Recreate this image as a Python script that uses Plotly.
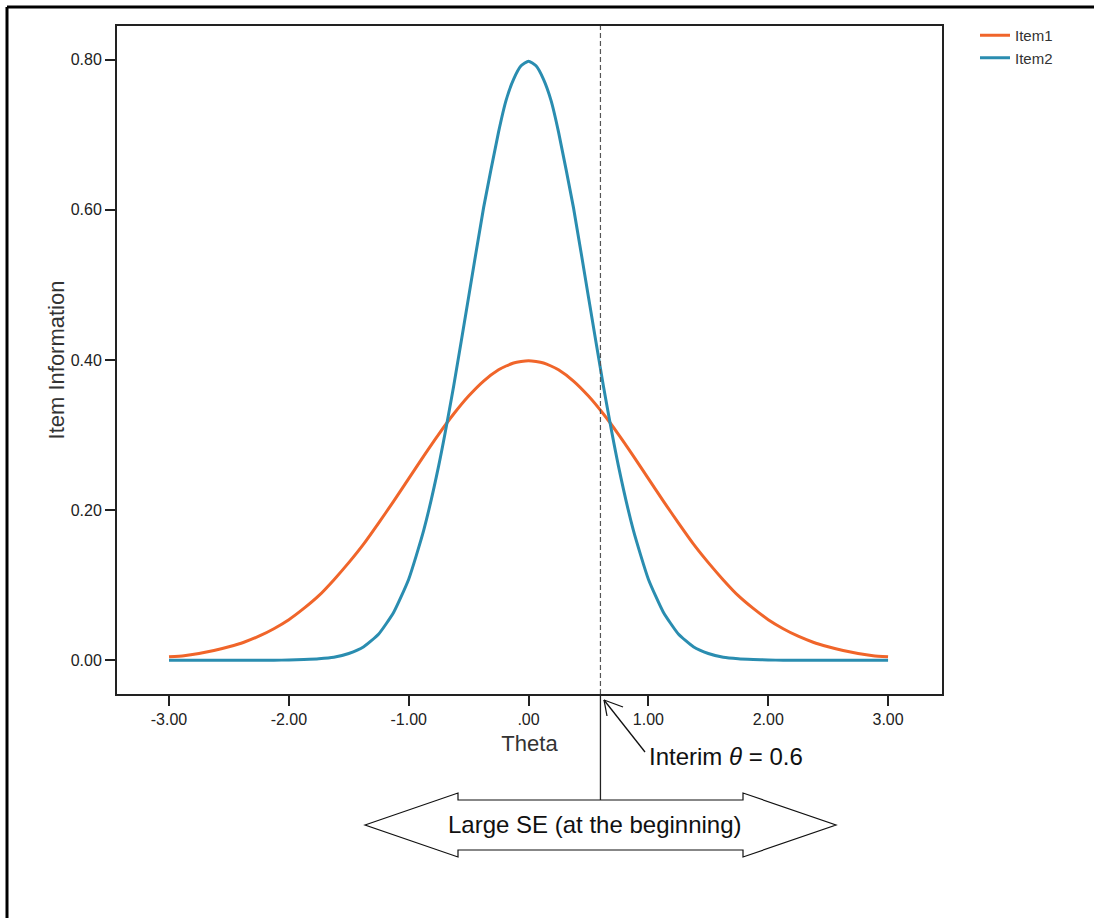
import plotly.graph_objects as go

# ---- data ----
theta = [-3.0, -2.875, -2.75, -2.625, -2.5, -2.375, -2.25, -2.125, -2.0, -1.875, -1.75, -1.625,
         -1.5, -1.375, -1.25, -1.125, -1.0, -0.875, -0.75, -0.625, -0.5, -0.375, -0.25, -0.1875,
         -0.125, -0.0625, 0.0, 0.0625, 0.125, 0.1875, 0.25, 0.375, 0.5, 0.625, 0.75, 0.875,
         1.0, 1.125, 1.25, 1.375, 1.5, 1.625, 1.75, 1.875, 2.0, 2.125, 2.25, 2.375, 2.5,
         2.625, 2.75, 2.875, 3.0]
item1 = [0.0045, 0.006, 0.009, 0.013, 0.018, 0.024, 0.032, 0.042, 0.054, 0.069, 0.086, 0.107,
         0.130, 0.155, 0.183, 0.212, 0.242, 0.272, 0.301, 0.328, 0.352, 0.372, 0.387, 0.392,
         0.396, 0.398, 0.399, 0.398, 0.396, 0.392, 0.387, 0.372, 0.352, 0.328, 0.301, 0.272,
         0.242, 0.212, 0.183, 0.155, 0.130, 0.107, 0.086, 0.069, 0.054, 0.042, 0.032, 0.024, 0.018,
         0.013, 0.009, 0.006, 0.0045]
item2 = [0.0, 0.0, 0.0, 0.0, 0.0, 0.0, 0.0, 0.0, 0.0003, 0.001, 0.002, 0.004,
         0.009, 0.018, 0.035, 0.064, 0.108, 0.173, 0.259, 0.365, 0.484, 0.603, 0.704, 0.746,
         0.774, 0.792, 0.798, 0.792, 0.774, 0.746, 0.704, 0.603, 0.484, 0.365, 0.259, 0.173,
         0.108, 0.064, 0.035, 0.018, 0.009, 0.004, 0.002, 0.001, 0.0003, 0.0, 0.0, 0.0, 0.0,
         0.0, 0.0, 0.0, 0.0]
series_names = ["Item1", "Item2"]
x_tickvals = [-3, -2, -1, 0, 1, 2, 3]
x_ticktext = ["-3.00", "-2.00", "-1.00", ".00", "1.00", "2.00", "3.00"]
y_tickvals = [0.0, 0.2, 0.4, 0.6, 0.8]
y_ticktext = ["0.00", "0.20", "0.40", "0.60", "0.80"]
interim_theta = 0.6

ORANGE = "#F0652A"
BLUE = "#2A8DB0"
FONT = "Liberation Sans, Arial, sans-serif"

W, H = 1094, 918
ML, MR, MT, MB = 117, 152, 26, 224
PW, PH = W - ML - MR, H - MT - MB
XR = [-3.434, 3.45]
YR = [-0.045, 0.845]


def px2paper(px, py):
    return (px - ML) / PW, (H - MB - py) / PH


def data2paperx(v):
    return (v - XR[0]) / (XR[1] - XR[0])


fig = go.Figure()
fig.add_trace(go.Scatter(x=theta, y=item1, mode="lines", name=series_names[0],
                         line=dict(color=ORANGE, width=3, shape="spline", smoothing=0.5)))
fig.add_trace(go.Scatter(x=theta, y=item2, mode="lines", name=series_names[1],
                         line=dict(color=BLUE, width=3, shape="spline", smoothing=0.5)))

axis_common = dict(showline=True, linecolor="#222", linewidth=2, mirror=True,
                   ticks="outside", ticklen=10, tickwidth=2, tickcolor="#222",
                   showgrid=False, zeroline=False,
                   tickfont=dict(family=FONT, size=16, color="#222"))

fig.update_xaxes(range=XR, tickvals=x_tickvals, ticktext=x_ticktext,
                 title=dict(text="Theta", font=dict(family=FONT, size=22, color="#333"), standoff=8),
                 **axis_common)
fig.update_yaxes(range=YR, tickvals=y_tickvals, ticktext=y_ticktext,
                 title=dict(text="Item Information", font=dict(family=FONT, size=22, color="#333"), standoff=0),
                 **axis_common)

shapes = []
# dashed vertical line at interim theta
shapes.append(dict(type="line", xref="x", yref="paper", x0=interim_theta, x1=interim_theta,
                   y0=0, y1=1, line=dict(color="#555", width=1.2, dash="5px,3px")))
# solid line from axis to double arrow
xp = data2paperx(interim_theta)
_, yb = px2paper(0, 800)
shapes.append(dict(type="line", xref="paper", yref="paper", x0=xp, x1=xp, y0=0, y1=yb,
                   line=dict(color="#222", width=1.3)))
# double-headed arrow outline
pts = [(365, 825), (458, 793), (458, 800), (743, 800), (743, 793), (836, 825),
       (743, 857), (743, 850), (458, 850), (458, 857)]
ppts = [px2paper(a, b) for a, b in pts]
path = "M " + " L ".join(f"{a:.5f},{b:.5f}" for a, b in ppts) + " Z"
shapes.append(dict(type="path", xref="paper", yref="paper", path=path,
                   line=dict(color="#111", width=1.2), fillcolor="white"))
# small arrow: line + open head
tail = px2paper(645, 752)
head = px2paper(604, 700)
shapes.append(dict(type="line", xref="paper", yref="paper", x0=tail[0], y0=tail[1],
                   x1=head[0], y1=head[1], line=dict(color="#111", width=1.3)))
h1 = px2paper(623, 707)
h2 = px2paper(607, 716)
for hp in (h1, h2):
    shapes.append(dict(type="line", xref="paper", yref="paper", x0=head[0], y0=head[1],
                       x1=hp[0], y1=hp[1], line=dict(color="#111", width=1.3)))
# outer frame (cropped figure border)
fx, fy = px2paper(7, 7)
fb = px2paper(0, 930)[1]
fr = px2paper(1100, 0)[0]
shapes.append(dict(type="line", xref="paper", yref="paper", x0=fx, x1=fx, y0=fb, y1=fy,
                   line=dict(color="black", width=3)))
shapes.append(dict(type="line", xref="paper", yref="paper", x0=fx, x1=fr, y0=fy, y1=fy,
                   line=dict(color="black", width=3)))

annotations = []
tx, ty = px2paper(647, 757)
annotations.append(dict(xref="paper", yref="paper", x=tx, y=ty, xanchor="left", yanchor="middle",
                        text="Interim <i>θ</i> = 0.6", showarrow=False,
                        font=dict(family=FONT, size=24, color="#111")))
cx, cy = px2paper(595, 824)
annotations.append(dict(xref="paper", yref="paper", x=cx, y=cy, xanchor="center", yanchor="middle",
                        text="Large SE (at the beginning)", showarrow=False,
                        font=dict(family=FONT, size=24, color="#111")))

lx, ly = px2paper(975, 19)
fig.update_layout(
    width=W, height=H,
    margin=dict(l=ML, r=MR, t=MT, b=MB, autoexpand=False),
    paper_bgcolor="white", plot_bgcolor="white",
    shapes=shapes, annotations=annotations,
    legend=dict(x=lx, y=ly, xanchor="left", yanchor="top", bgcolor="rgba(0,0,0,0)",
                font=dict(family=FONT, size=15, color="#333"), itemwidth=30),
    font=dict(family=FONT),
)

fig.write_html("out.html")
